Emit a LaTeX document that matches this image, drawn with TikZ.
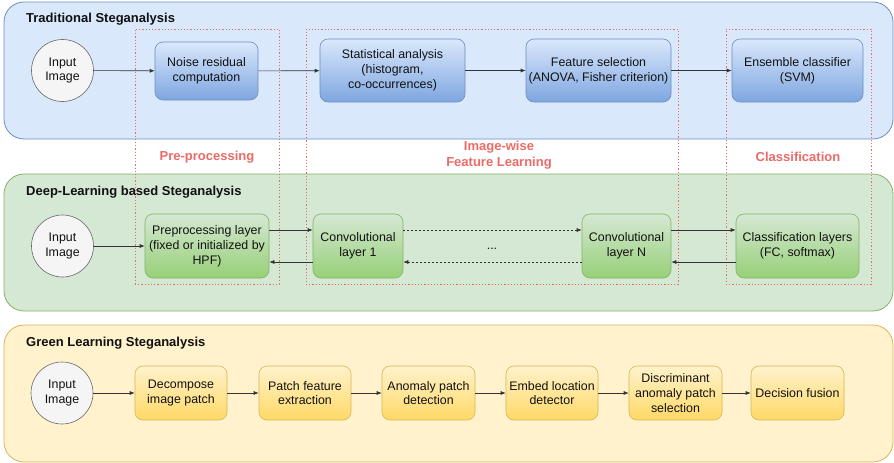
\documentclass[tikz,border=0pt]{standalone}
\usepackage{fontspec}
\setmainfont{Liberation Sans}
\usetikzlibrary{arrows.meta}
\definecolor{bluefill}{HTML}{DAE8FC}
\definecolor{blueline}{HTML}{6C8EBF}
\definecolor{bluebot}{HTML}{7EA6E0}
\definecolor{greenfill}{HTML}{D5E8D4}
\definecolor{greenline}{HTML}{82B366}
\definecolor{greenbot}{HTML}{97D077}
\definecolor{yelfill}{HTML}{FFF2CC}
\definecolor{yelline}{HTML}{D6B656}
\definecolor{yelbot}{HTML}{FFD966}
\definecolor{circfill}{HTML}{F5F5F5}
\definecolor{circline}{HTML}{666666}
\definecolor{redc}{HTML}{EA6B66}
\definecolor{arrc}{HTML}{333333}
\definecolor{txt}{HTML}{111111}
\begin{document}
\begin{tikzpicture}[x=1pt,y=-1pt,
  font=\fontsize{12.4}{14.8}\selectfont, text=txt,
  panel/.style={rounded corners=20pt, line width=0.8pt, inner sep=0pt},
  ptitle/.style={anchor=west, font=\fontsize{13}{15}\selectfont\bfseries, inner sep=0pt},
  box/.style={rounded corners=8pt, align=center, inner sep=0pt, line width=0.6pt},
  bbox/.style={box, draw=blueline, top color=bluefill, bottom color=bluebot},
  gbox/.style={box, draw=greenline, top color=greenfill, bottom color=greenbot},
  ybox/.style={box, draw=yelline, top color=yelfill, bottom color=yelbot},
  inimg/.style={circle, draw=circline, fill=circfill, minimum size=62pt, align=center, inner sep=0pt, line width=0.6pt},
  redbox/.style={draw=redc, dash pattern=on 1.2pt off 2pt, line width=0.45pt, inner sep=0pt},
  redlbl/.style={text=redc, font=\fontsize{13}{16}\selectfont\bfseries, align=center, inner sep=0pt},
  arr/.style={-{Latex[length=5pt,width=4pt]}, draw=arrc, line width=0.6pt},
  darr/.style={arr, dash pattern=on 2pt off 2pt}
]
\useasboundingbox (0,0) rectangle (894,463);

% panels
\node[panel, draw=blueline, fill=bluefill, minimum width=889pt, minimum height=137pt] (tp) at (448.5,70.5) {};
\node[panel, draw=greenline, fill=greenfill, minimum width=889pt, minimum height=137pt] (dp) at (448.5,242.5) {};
\node[panel, draw=yelline, fill=yelfill, minimum width=889pt, minimum height=137pt] (gp) at (448.5,393.5) {};

\node[ptitle] (tt) at (26,19) {Traditional Steganalysis};
\node[ptitle] (dt) at (26,192) {Deep-Learning based Steganalysis};
\node[ptitle] (gt) at (26,343) {Green Learning Steganalysis};

% dashed region boxes
\node[redbox, minimum width=144pt, minimum height=255pt] (rpre) at (207,156.5) {};
\node[redbox, minimum width=372pt, minimum height=255pt] (rimg) at (492,156.5) {};
\node[redbox, minimum width=145pt, minimum height=255pt] (rcls) at (798.5,156.5) {};
\node[redlbl] (lpre) at (207,157) {Pre-processing};
\node[redlbl] (limg) at (499,155) {Image-wise\\Feature Learning};
\node[redlbl] (lcls) at (798,157) {Classification};

% traditional row
\node[inimg] (ti) at (62.5,70.5) {Input\\Image};
\node[bbox, minimum width=103pt, minimum height=58pt] (noise) at (206.5,71) {Noise residual\\computation};
\node[bbox, minimum width=145pt, minimum height=63pt] (stat) at (392.5,70.5) {Statistical analysis\\(histogram,\\co-occurrences)};
\node[bbox, minimum width=145pt, minimum height=63pt] (fsel) at (598.5,70.5) {Feature selection\\(ANOVA, Fisher criterion)};
\node[bbox, minimum width=131pt, minimum height=63pt] (ens) at (797.5,70.5) {Ensemble classifier\\(SVM)};
\draw[arr] (ti) -- (noise);
\draw[arr] (noise) -- (stat);
\draw[arr] (stat) -- (fsel);
\draw[arr] (fsel) -- (ens);

% deep row
\node[inimg] (di) at (62.5,246) {Input\\Image};
\node[gbox, minimum width=124pt, minimum height=64pt] (prel) at (207,246) {Preprocessing layer\\(fixed or initialized by\\HPF)};
\node[gbox, minimum width=90pt, minimum height=64pt] (c1) at (358,246) {Convolutional\\layer 1};
\node[gbox, minimum width=89pt, minimum height=64pt] (cn) at (626.5,246) {Convolutional\\layer N};
\node[gbox, minimum width=123pt, minimum height=64pt] (cls) at (797.5,246) {Classification layers\\(FC, softmax)};
\node[inner sep=0pt, anchor=base] (dots) at (492,249) {...};
\draw[arr] (di) -- (prel);
\draw[arr] ([yshift=16pt]prel.east) -- ([yshift=16pt]c1.west);
\draw[darr] ([yshift=16pt]c1.east) -- ([yshift=16pt]cn.west);
\draw[arr] ([yshift=16pt]cn.east) -- ([yshift=16pt]cls.west);
\draw[arr] ([yshift=-16pt]cls.west) -- ([yshift=-16pt]cn.east);
\draw[darr] ([yshift=-16pt]cn.west) -- ([yshift=-16pt]c1.east);
\draw[arr] ([yshift=-16pt]c1.west) -- ([yshift=-16pt]prel.east);

% green row
\node[inimg] (gi) at (62,393) {Input\\Image};
\node[ybox, minimum width=92pt, minimum height=54pt] (dec) at (181,393) {Decompose\\image patch};
\node[ybox, minimum width=92pt, minimum height=54pt] (pfe) at (305,393) {Patch feature\\extraction};
\node[ybox, minimum width=93pt, minimum height=54pt] (apd) at (428.5,393) {Anomaly patch\\detection};
\node[ybox, minimum width=92pt, minimum height=54pt] (eld) at (552,393) {Embed location\\detector};
\node[ybox, minimum width=93pt, minimum height=54pt] (dap) at (675.5,393) {Discriminant\\anomaly patch\\selection};
\node[ybox, minimum width=93pt, minimum height=54pt] (df) at (797.5,393) {Decision fusion};
\draw[arr] (gi) -- (dec);
\draw[arr] (dec) -- (pfe);
\draw[arr] (pfe) -- (apd);
\draw[arr] (apd) -- (eld);
\draw[arr] (eld) -- (dap);
\draw[arr] (dap) -- (df);
\end{tikzpicture}
\end{document}
